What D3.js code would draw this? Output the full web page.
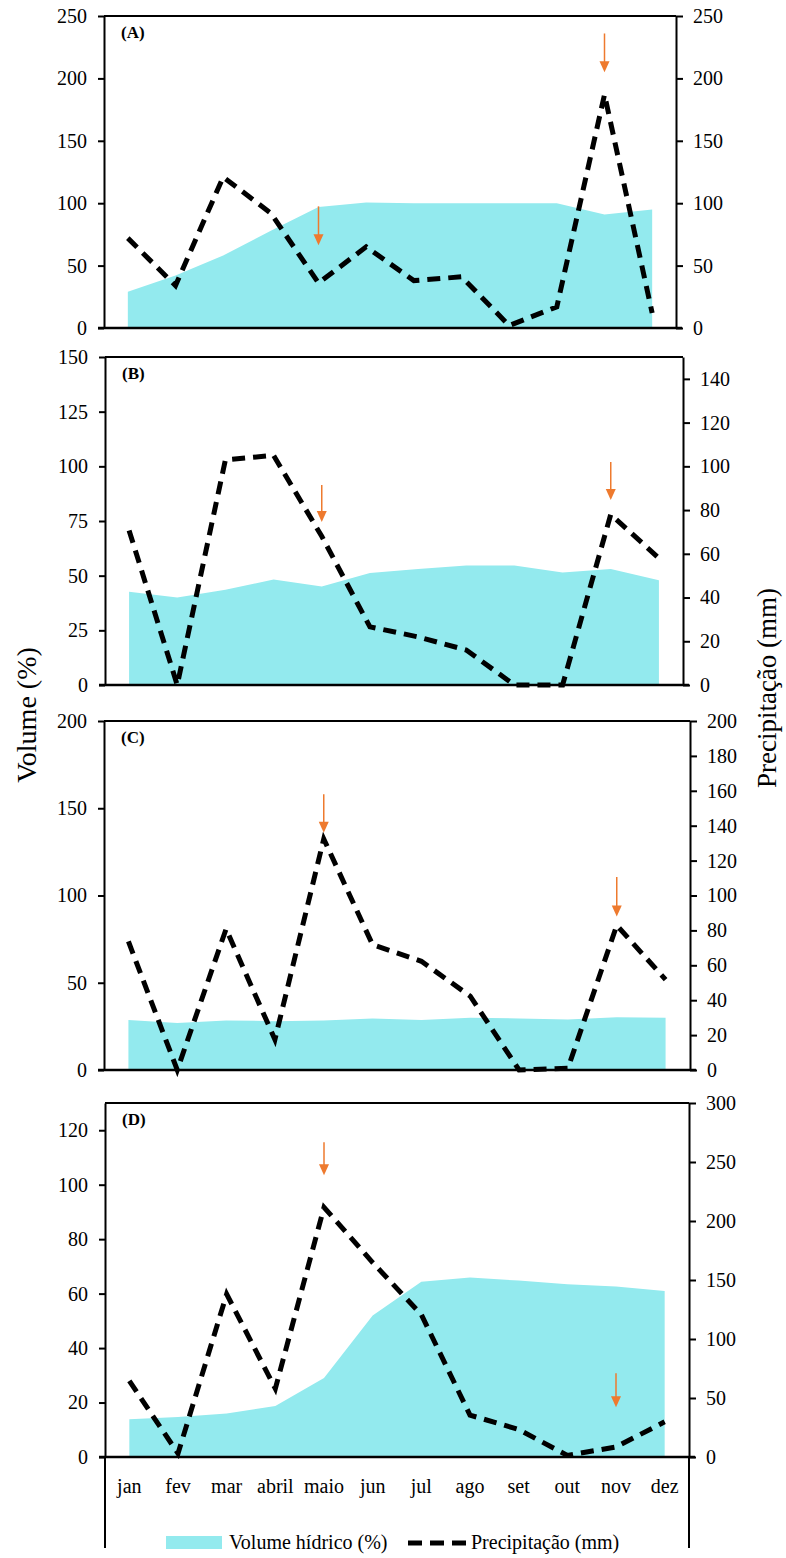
<!DOCTYPE html>
<html>
<head>
<meta charset="utf-8">
<title>Volume hídrico e precipitação</title>
<style>
  body { margin: 0; background: #fff; }
  svg text { font-family: "Liberation Serif", "Times New Roman", serif !important; fill: #000; }
  .axis path, .axis line { stroke: #000; stroke-width: 2px; }
  .axis text { font-size: 20px; }
</style>
<script src="https://cdn.jsdelivr.net/npm/d3@7/dist/d3.min.js"></script>
</head>
<body>
<svg id="chart" width="786" height="1558"></svg>
<script>
// meses
var months = ["jan", "fev", "mar", "abril", "maio", "jun", "jul", "ago", "set", "out", "nov", "dez"];

// volume hídrico (%) por painel
var volA = [29, 42, 58, 78, 97, 100.5, 100, 100, 100, 100, 91, 95];
var volB = [42.6, 40, 43.6, 48.2, 45, 51.2, 53, 54.6, 54.6, 51.5, 53, 47.9];
var volC = [28.6, 27, 28.4, 28, 28.4, 29.5, 28.6, 30, 29.5, 29, 30.3, 30];
var volD = [13.9, 14.7, 16, 18.7, 29, 52, 64.4, 65.9, 64.8, 63.4, 62.6, 61];

// precipitação (mm) por painel
var precA = [72, 34, 121, 92, 36, 65, 38, 41, 2, 17, 187, 12];
var precB = [70.7, 0, 103, 105, 68, 26.6, 22, 16, 0, 0, 78, 58];
var precC = [73.7, 0, 80.8, 17.5, 132.4, 71.8, 62.3, 42.3, 0, 1, 82.9, 51.8];
var precD = [64.5, 3, 138, 58, 211.6, 164.8, 120.7, 35.5, 23.3, 1.4, 8.5, 29.8];

// ticks dos eixos
var leftTicksA = [0, 50, 100, 150, 200, 250];
var rightTicksA = [0, 50, 100, 150, 200, 250];
var leftTicksB = [0, 25, 50, 75, 100, 125, 150];
var rightTicksB = [0, 20, 40, 60, 80, 100, 120, 140];
var leftTicksC = [0, 50, 100, 150, 200];
var rightTicksC = [0, 20, 40, 60, 80, 100, 120, 140, 160, 180, 200];
var leftTicksD = [0, 20, 40, 60, 80, 100, 120];
var rightTicksD = [0, 50, 100, 150, 200, 250, 300];

// setas laranja: [mês, início, ponta] em unidades do eixo esquerdo
var arrowsA = [["maio", 97.5, 66.3], ["nov", 236, 205]];
var arrowsB = [["maio", 91.5, 74.5], ["nov", 102, 84.6]];
var arrowsC = [["maio", 158, 136], ["nov", 110.6, 88]];
var arrowsD = [["maio", 115.6, 103.5], ["nov", 30.8, 18.3]];

var panels = [
  { label: "(A)", vol: volA, prec: precA, lt: leftTicksA, rt: rightTicksA, lmax: 250, rmax: 250, arrows: arrowsA,
    x0: 104, x1: 676, y0: 16, y1: 328 },
  { label: "(B)", vol: volB, prec: precB, lt: leftTicksB, rt: rightTicksB, lmax: 150, rmax: 150, arrows: arrowsB,
    x0: 105, x1: 683, y0: 357, y1: 685 },
  { label: "(C)", vol: volC, prec: precC, lt: leftTicksC, rt: rightTicksC, lmax: 200, rmax: 200, arrows: arrowsC,
    x0: 104, x1: 690, y0: 721, y1: 1070 },
  { label: "(D)", vol: volD, prec: precD, lt: leftTicksD, rt: rightTicksD, lmax: 130, rmax: 300, arrows: arrowsD,
    x0: 105, x1: 689, y0: 1103, y1: 1457 }
];

var svg = d3.select("#chart");
var serif = "'Liberation Serif', 'Times New Roman', serif";
var areaColor = "#93EAEE";
var arrowColor = "#EE7A2E";

panels.forEach(function(p, idx) {
  var g = svg.append("g");
  var x = d3.scalePoint().domain(months).range([p.x0, p.x1]).padding(0.5);
  var yL = d3.scaleLinear().domain([0, p.lmax]).range([p.y1, p.y0]);
  var yR = d3.scaleLinear().domain([0, p.rmax]).range([p.y1, p.y0]);

  // área do volume
  var area = d3.area()
    .x(function(d, i) { return x(months[i]); })
    .y0(p.y1)
    .y1(function(d) { return yL(d); });
  g.append("path").datum(p.vol).attr("d", area).attr("fill", areaColor);

  // linha tracejada da precipitação
  var line = d3.line()
    .x(function(d, i) { return x(months[i]); })
    .y(function(d) { return yR(d); });
  g.append("path").datum(p.prec).attr("d", line)
    .attr("fill", "none").attr("stroke", "#000")
    .attr("stroke-width", 5).attr("stroke-dasharray", "13,8");

  // setas
  p.arrows.forEach(function(a) {
    var ax = x(a[0]), ya = yL(a[1]), yb = yL(a[2]);
    g.append("line").attr("x1", ax).attr("x2", ax).attr("y1", ya).attr("y2", yb - 9)
      .attr("stroke", arrowColor).attr("stroke-width", 1.5);
    g.append("path")
      .attr("d", "M" + (ax - 5) + "," + (yb - 11) + "L" + (ax + 5) + "," + (yb - 11) + "L" + ax + "," + yb + "Z")
      .attr("fill", arrowColor);
  });

  // eixos
  g.append("g").attr("class", "axis").attr("transform", "translate(" + p.x0 + ",0)")
    .call(d3.axisLeft(yL).tickValues(p.lt).tickSize(6).tickPadding(11).tickSizeOuter(0))
    .attr("font-family", serif).attr("font-size", 20);
  g.append("g").attr("class", "axis").attr("transform", "translate(" + p.x1 + ",0)")
    .call(d3.axisRight(yR).tickValues(p.rt).tickSize(7).tickPadding(10).tickSizeOuter(0))
    .attr("font-family", serif).attr("font-size", 20);

  // moldura superior e linha de base
  g.append("line").attr("x1", p.x0).attr("x2", p.x1).attr("y1", p.y0).attr("y2", p.y0)
    .attr("stroke", "#000").attr("stroke-width", 2);
  g.append("line").attr("x1", p.x0 - 6).attr("x2", p.x1 + 6).attr("y1", p.y1).attr("y2", p.y1)
    .attr("stroke", "#000").attr("stroke-width", 2.5);

  g.append("text").attr("x", p.x0 + 17).attr("y", p.y0 + 22)
    .attr("font-size", "17px").attr("font-weight", "bold").text(p.label);

  // último painel: meses, linhas verticais e legenda
  if (idx === 3) {
    g.selectAll(".mes").data(months).enter().append("text")
      .attr("x", function(d) { return x(d); }).attr("y", p.y1 + 36)
      .attr("text-anchor", "middle").attr("font-size", "20px").text(function(d) { return d; });
    g.append("line").attr("x1", p.x0).attr("x2", p.x0).attr("y1", p.y1).attr("y2", 1548)
      .attr("stroke", "#000").attr("stroke-width", 2);
    g.append("line").attr("x1", p.x1).attr("x2", p.x1).attr("y1", p.y1).attr("y2", 1548)
      .attr("stroke", "#000").attr("stroke-width", 2);

    var lg = g.append("g");
    lg.append("rect").attr("x", 166).attr("y", 1536).attr("width", 56).attr("height", 13).attr("fill", areaColor);
    lg.append("text").attr("x", 229).attr("y", 1549).attr("font-size", "20px").text("Volume hídrico (%)");
    lg.append("line").attr("x1", 408).attr("x2", 466).attr("y1", 1543).attr("y2", 1543)
      .attr("stroke", "#000").attr("stroke-width", 5).attr("stroke-dasharray", "14,8");
    lg.append("text").attr("x", 471).attr("y", 1549).attr("font-size", "20px").text("Precipitação (mm)");
  }
});

// títulos dos eixos
svg.append("text").attr("transform", "translate(36,715) rotate(-90)")
  .attr("text-anchor", "middle").attr("font-size", "28px").text("Volume (%)");
svg.append("text").attr("transform", "translate(776,688) rotate(-90)")
  .attr("text-anchor", "middle").attr("font-size", "27px").text("Precipitação (mm)");
</script>
</body>
</html>
